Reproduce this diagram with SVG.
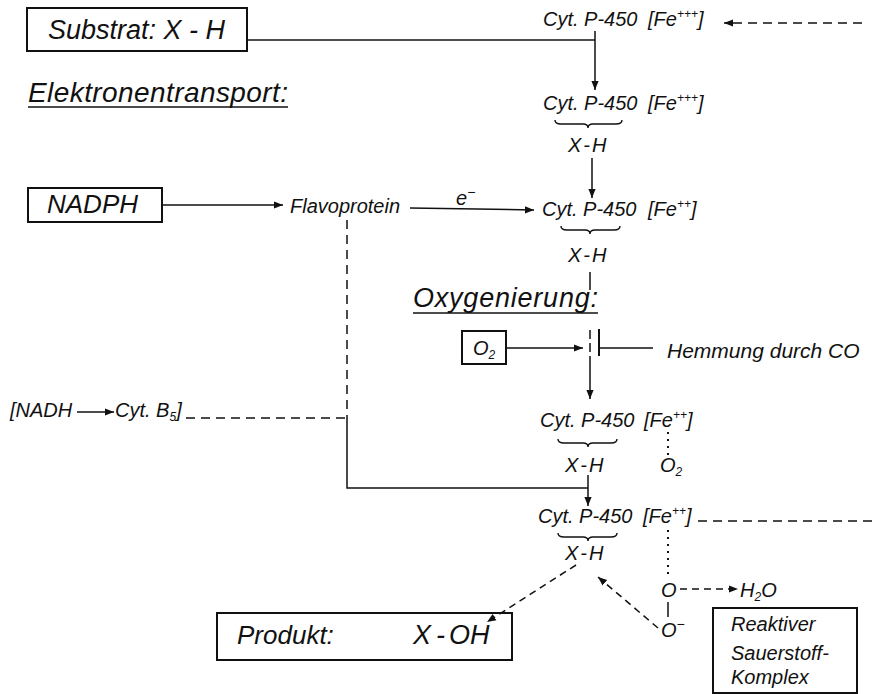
<svg xmlns="http://www.w3.org/2000/svg" width="877" height="694" viewBox="0 0 877 694">
<defs>
<marker id="ah" viewBox="0 0 10 10" refX="10" refY="5" markerWidth="9" markerHeight="9" markerUnits="userSpaceOnUse" orient="auto">
<path d="M0,1 L10,5 L0,9 Z" fill="#111"/>
</marker>
<style>
text{font-family:"Liberation Sans",Arial,sans-serif;font-style:italic;fill:#111}
.m{font-size:20px}
.b{font-size:27px}
.box{fill:none;stroke:#111;stroke-width:2}
.ln{fill:none;stroke:#111;stroke-width:1.5}
.ds{fill:none;stroke:#111;stroke-width:1.5;stroke-dasharray:9 6}
.dt{fill:none;stroke:#111;stroke-width:2;stroke-dasharray:2 5}
.br{fill:none;stroke:#111;stroke-width:1.4}
.ul{stroke:#111;stroke-width:1.6}
</style>
</defs>
<rect width="877" height="694" fill="#fff"/>

<g id="substrat">
<rect class="box" x="27" y="8" width="220" height="43"/>
<text class="b" x="48" y="39">Substrat: X - H</text>
</g>

<g id="elektronentransport">
<text class="b" x="28" y="102" textLength="260" lengthAdjust="spacing" style="font-size:28px">Elektronentransport:</text>
<line class="ul" x1="28" y1="107" x2="288" y2="107"/>
</g>

<g id="cyt1">
<text class="m" x="543" y="26">Cyt. P-450</text>
<text class="m" x="648" y="26">[Fe<tspan font-size="12" dy="-8">+++</tspan><tspan dy="8">]</tspan></text>
</g>

<g id="cyt2">
<text class="m" x="543" y="110">Cyt. P-450</text>
<text class="m" x="648" y="110">[Fe<tspan font-size="12" dy="-8">+++</tspan><tspan dy="8">]</tspan></text>
<path class="br" d="M555,120 Q555,124 561,124 L583,124 Q588,124 588,128 Q588,124 593,124 L616,124 Q622,124 622,120"/>
<text class="m" x="568" y="152">X<tspan dx="2">-</tspan><tspan dx="2">H</tspan></text>
</g>

<g id="nadph">
<rect class="box" x="28" y="188" width="134" height="34"/>
<text class="b" x="47" y="213" style="font-size:26px">NADPH</text>
</g>

<g id="flavoprotein">
<text class="m" x="290" y="213">Flavoprotein</text>
</g>

<g id="e-label">
<text class="m" x="456" y="205">e<tspan font-size="14" dy="-8">−</tspan></text>
</g>

<g id="cyt3">
<text class="m" x="542" y="216">Cyt. P-450</text>
<text class="m" x="648" y="216">[Fe<tspan font-size="12" dy="-8">++</tspan><tspan dy="8">]</tspan></text>
<path class="br" d="M561,226 Q561,230 567,230 L585,230 Q590,230 590,234 Q590,230 595,230 L614,230 Q620,230 620,226"/>
<text class="m" x="568" y="262">X<tspan dx="2">-</tspan><tspan dx="2">H</tspan></text>
</g>

<g id="oxygenierung">
<text class="b" x="413" y="307" textLength="185" lengthAdjust="spacing">Oxygenierung:</text>
<line class="ul" x1="413" y1="313" x2="598" y2="313"/>
</g>

<g id="o2box">
<rect class="box" x="462" y="331" width="44" height="33"/>
<text class="m" x="473" y="355">O<tspan font-size="12" dy="4">2</tspan></text>
</g>

<g id="hemmung">
<text class="m" x="667" y="358" style="font-size:21px">Hemmung durch CO</text>
</g>

<g id="nadh-cytb5">
<text class="m" x="10" y="417">[NADH</text>
<text class="m" x="115" y="417">Cyt. B<tspan font-size="12" dy="4">5</tspan><tspan dy="-4">]</tspan></text>
</g>

<g id="cyt4">
<text class="m" x="540" y="427">Cyt. P-450</text>
<text class="m" x="644" y="427">[Fe<tspan font-size="12" dy="-8">++</tspan><tspan dy="8">]</tspan></text>
<path class="br" d="M558,439 Q558,443 564,443 L583,443 Q588,443 588,447 Q588,443 593,443 L611,443 Q617,443 617,439"/>
<text class="m" x="565" y="472">X<tspan dx="2">-</tspan><tspan dx="2">H</tspan></text>
<text class="m" x="660" y="472">O<tspan font-size="12" dy="4">2</tspan></text>
</g>

<g id="cyt5">
<text class="m" x="538" y="523">Cyt. P-450</text>
<text class="m" x="643" y="523">[Fe<tspan font-size="12" dy="-8">++</tspan><tspan dy="8">]</tspan></text>
<path class="br" d="M558,533 Q558,537 564,537 L583,537 Q588,537 588,541 Q588,537 593,537 L611,537 Q617,537 617,533"/>
<text class="m" x="565" y="560">X<tspan dx="2">-</tspan><tspan dx="2">H</tspan></text>
</g>

<g id="oxygen-complex">
<text class="m" x="661" y="597">O</text>
<text class="m" x="740" y="597">H<tspan font-size="12" dy="4">2</tspan><tspan dy="-4">O</tspan></text>
<text class="m" x="661" y="637">O<tspan font-size="14" dy="-8">−</tspan></text>
</g>

<g id="reaktiver">
<rect class="box" x="713" y="608" width="144" height="85"/>
<text class="m" x="731" y="631">Reaktiver</text>
<text class="m" x="731" y="660">Sauerstoff-</text>
<text class="m" x="731" y="684">Komplex</text>
</g>

<g id="produkt">
<rect class="box" x="217" y="613" width="295" height="47"/>
<text class="b" x="237" y="644" style="font-size:26px">Produkt:</text>
<text class="b" x="413" y="644">X<tspan dx="5">-</tspan><tspan dx="4">OH</tspan></text>
</g>

<g id="connectors">
<polyline class="ln" points="247,40 595,40"/>
<line class="ln" x1="595" y1="31" x2="595" y2="90" marker-end="url(#ah)"/>
<line class="ds" x1="862" y1="23" x2="724" y2="23" marker-end="url(#ah)"/>
<line class="ln" x1="592" y1="158" x2="592" y2="198" marker-end="url(#ah)"/>
<line class="ln" x1="163" y1="205" x2="283" y2="205" marker-end="url(#ah)"/>
<line class="ln" x1="410" y1="208" x2="534" y2="210" marker-end="url(#ah)"/>
<line class="ds" x1="347" y1="220" x2="347" y2="418"/>
<line class="ln" x1="77" y1="412" x2="114" y2="412" marker-end="url(#ah)"/>
<line class="ds" x1="186" y1="418" x2="347" y2="418"/>
<polyline class="ln" points="347,418 347,488 588,488"/>
<line class="ln" x1="588" y1="475" x2="588" y2="506" marker-end="url(#ah)"/>
<line class="ln" x1="590" y1="272" x2="590" y2="290"/>
<line class="ln" x1="590" y1="330" x2="590" y2="339"/>
<line class="ln" x1="590" y1="343" x2="590" y2="352"/>
<line class="ln" x1="590" y1="356" x2="590" y2="399" marker-end="url(#ah)"/>
<line class="ln" x1="507" y1="348" x2="583" y2="348" marker-end="url(#ah)"/>
<line class="ln" x1="599" y1="329" x2="599" y2="356" style="stroke-width:2"/>
<line class="ln" x1="599" y1="348" x2="653" y2="348"/>
<line class="dt" x1="668" y1="432" x2="668" y2="456"/>
<line class="ds" x1="698" y1="521" x2="877" y2="521"/>
<line class="dt" x1="668" y1="530" x2="668" y2="577"/>
<line class="ds" x1="680" y1="589" x2="738" y2="589" style="stroke-dasharray:7 5" marker-end="url(#ah)"/>
<line class="ln" x1="668" y1="602" x2="668" y2="617"/>
<line class="ds" x1="658" y1="628" x2="598" y2="577" style="stroke-dasharray:7 5" marker-end="url(#ah)"/>
<line class="ds" x1="576" y1="565" x2="487" y2="622" style="stroke-dasharray:7 5" marker-end="url(#ah)"/>
</g>
</svg>
